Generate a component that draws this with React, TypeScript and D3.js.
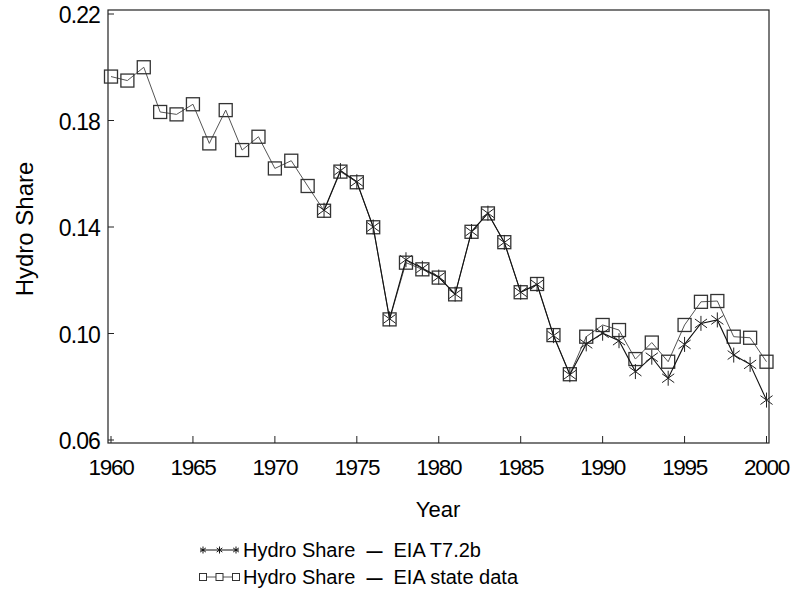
import * as d3 from 'd3';

// state data series, 1960-2000
const stateYears = [
  1960, 1961, 1962, 1963, 1964, 1965, 1966, 1967, 1968, 1969,
  1970, 1971, 1972, 1973, 1974, 1975, 1976, 1977, 1978, 1979,
  1980, 1981, 1982, 1983, 1984, 1985, 1986, 1987, 1988, 1989,
  1990, 1991, 1992, 1993, 1994, 1995, 1996, 1997, 1998, 1999, 2000,
];
const stateShare = [
  0.1965, 0.195, 0.2, 0.1832, 0.1823, 0.1861, 0.1714, 0.1839, 0.1689, 0.1739,
  0.162, 0.1649, 0.1554, 0.1461, 0.1608, 0.1568, 0.1399, 0.1053, 0.1266, 0.1241,
  0.121, 0.1147, 0.1382, 0.1451, 0.1343, 0.1155, 0.1186, 0.0994, 0.0847, 0.0988,
  0.1032, 0.1013, 0.0904, 0.0966, 0.0894, 0.1032, 0.1119, 0.1122, 0.0988, 0.0984, 0.0894,
];

// EIA table 7.2b series, 1973-2000
const eiaYears = [
  1973, 1974, 1975, 1976, 1977, 1978, 1979, 1980, 1981, 1982,
  1983, 1984, 1985, 1986, 1987, 1988, 1989, 1990, 1991, 1992,
  1993, 1994, 1995, 1996, 1997, 1998, 1999, 2000,
];
const eiaShare = [
  0.1463, 0.1612, 0.157, 0.14, 0.1055, 0.1277, 0.1245, 0.1212, 0.1148, 0.1383,
  0.1452, 0.1342, 0.1155, 0.1184, 0.0992, 0.0845, 0.0961, 0.1001, 0.0973, 0.0857,
  0.0911, 0.0832, 0.0959, 0.1038, 0.1051, 0.0919, 0.0884, 0.075,
];

const xTicks = [1960, 1965, 1970, 1975, 1980, 1985, 1990, 1995, 2000];
const yTicks = [0.06, 0.1, 0.14, 0.18, 0.22];
const legendNames = ['EIA T7.2b', 'EIA state data'];

const W = 795;
const H = 599;
const font = '"Liberation Sans", Arial, Helvetica, sans-serif';

const x = d3.scaleLinear().domain([1960, 2000]).range([111, 766.5]);
const y = d3.scaleLinear().domain([0.06, 0.22]).range([440, 14]);
const frame = { left: 108, right: 769, top: 10, bottom: 443 };

type Pt = { yr: number; v: number };
const stateData: Pt[] = stateYears.map((yr, i) => ({ yr, v: stateShare[i] }));
const eiaData: Pt[] = eiaYears.map((yr, i) => ({ yr, v: eiaShare[i] }));

const line = d3.line<Pt>().x(d => x(d.yr)).y(d => y(d.v));

const starPath = (cx: number, cy: number, r: number) => {
  const dx = r * Math.cos(Math.PI / 5);
  const dy = r * Math.sin(Math.PI / 5);
  return `M${cx},${cy - r}L${cx},${cy + r}` +
    `M${cx - dx},${cy - dy}L${cx + dx},${cy + dy}` +
    `M${cx - dx},${cy + dy}L${cx + dx},${cy - dy}`;
};

const LegendText = ({ yPos, name }: { yPos: number; name: string }) => (
  <text x={243} y={yPos} fontSize={20} style={{ whiteSpace: 'pre' }}>
    {'Hydro Share  '}
    <tspan fontWeight="bold" fontSize={16}>{'\u2014'}</tspan>
    {'  ' + name}
  </text>
);

export default function App() {
  const sq = 13;
  return (
    <div style={{ position: 'fixed', left: 0, top: 0 }}>
      <svg width={W} height={H} style={{ display: 'block', background: '#fff' }} fontFamily={font}>
        {/* frame */}
        <rect x={frame.left} y={frame.top} width={frame.right - frame.left} height={frame.bottom - frame.top}
          fill="none" stroke="#222" strokeWidth={1.2} />

        {/* y axis */}
        {yTicks.map(t => (
          <g key={t}>
            <line x1={frame.left} x2={frame.left + 6} y1={y(t)} y2={y(t)} stroke="#222" />
            <text x={100} y={y(t) + 9} textAnchor="end" fontSize={23} letterSpacing={-0.9}>
              {t.toFixed(2)}
            </text>
          </g>
        ))}
        <text transform={`translate(33,229) rotate(-90)`} textAnchor="middle" fontSize={24}>Hydro Share</text>

        {/* x axis */}
        {xTicks.map(t => (
          <g key={t}>
            <line x1={x(t)} x2={x(t)} y1={frame.bottom} y2={frame.bottom - 7} stroke="#222" />
            <text x={x(t)} y={475} textAnchor="middle" fontSize={22.5} letterSpacing={-1.3}>{t}</text>
          </g>
        ))}
        <text x={438} y={517} textAnchor="middle" fontSize={22}>Year</text>

        {/* state data series */}
        <path d={line(stateData) ?? ''} fill="none" stroke="#555" strokeWidth={1} />
        {stateData.map(d => (
          <rect key={'s' + d.yr} x={x(d.yr) - sq / 2} y={y(d.v) - sq / 2} width={sq} height={sq}
            fill="none" stroke="#333" strokeWidth={1.3} />
        ))}

        {/* EIA T7.2b series */}
        <path d={line(eiaData) ?? ''} fill="none" stroke="#111" strokeWidth={1.1} />
        {eiaData.map(d => (
          <path key={'e' + d.yr} d={starPath(x(d.yr), y(d.v), 7.5)} stroke="#222" strokeWidth={1} fill="none" />
        ))}

        {/* legend */}
        <g>
          <line x1={200} x2={239} y1={550} y2={550} stroke="#111" />
          {[203, 219.5, 236].map(cx => (
            <path key={'ls' + cx} d={starPath(cx, 550, 3.5)} stroke="#111" strokeWidth={1} fill="none" />
          ))}
          <LegendText yPos={557} name={legendNames[0]} />

          <line x1={200} x2={239} y1={577} y2={577} stroke="#555" />
          {[203, 219.5, 236].map(cx => (
            <rect key={'lq' + cx} x={cx - 3.5} y={573.5} width={7} height={7} fill="#fff" stroke="#333" strokeWidth={1} />
          ))}
          <LegendText yPos={584} name={legendNames[1]} />
        </g>
      </svg>
    </div>
  );
}
